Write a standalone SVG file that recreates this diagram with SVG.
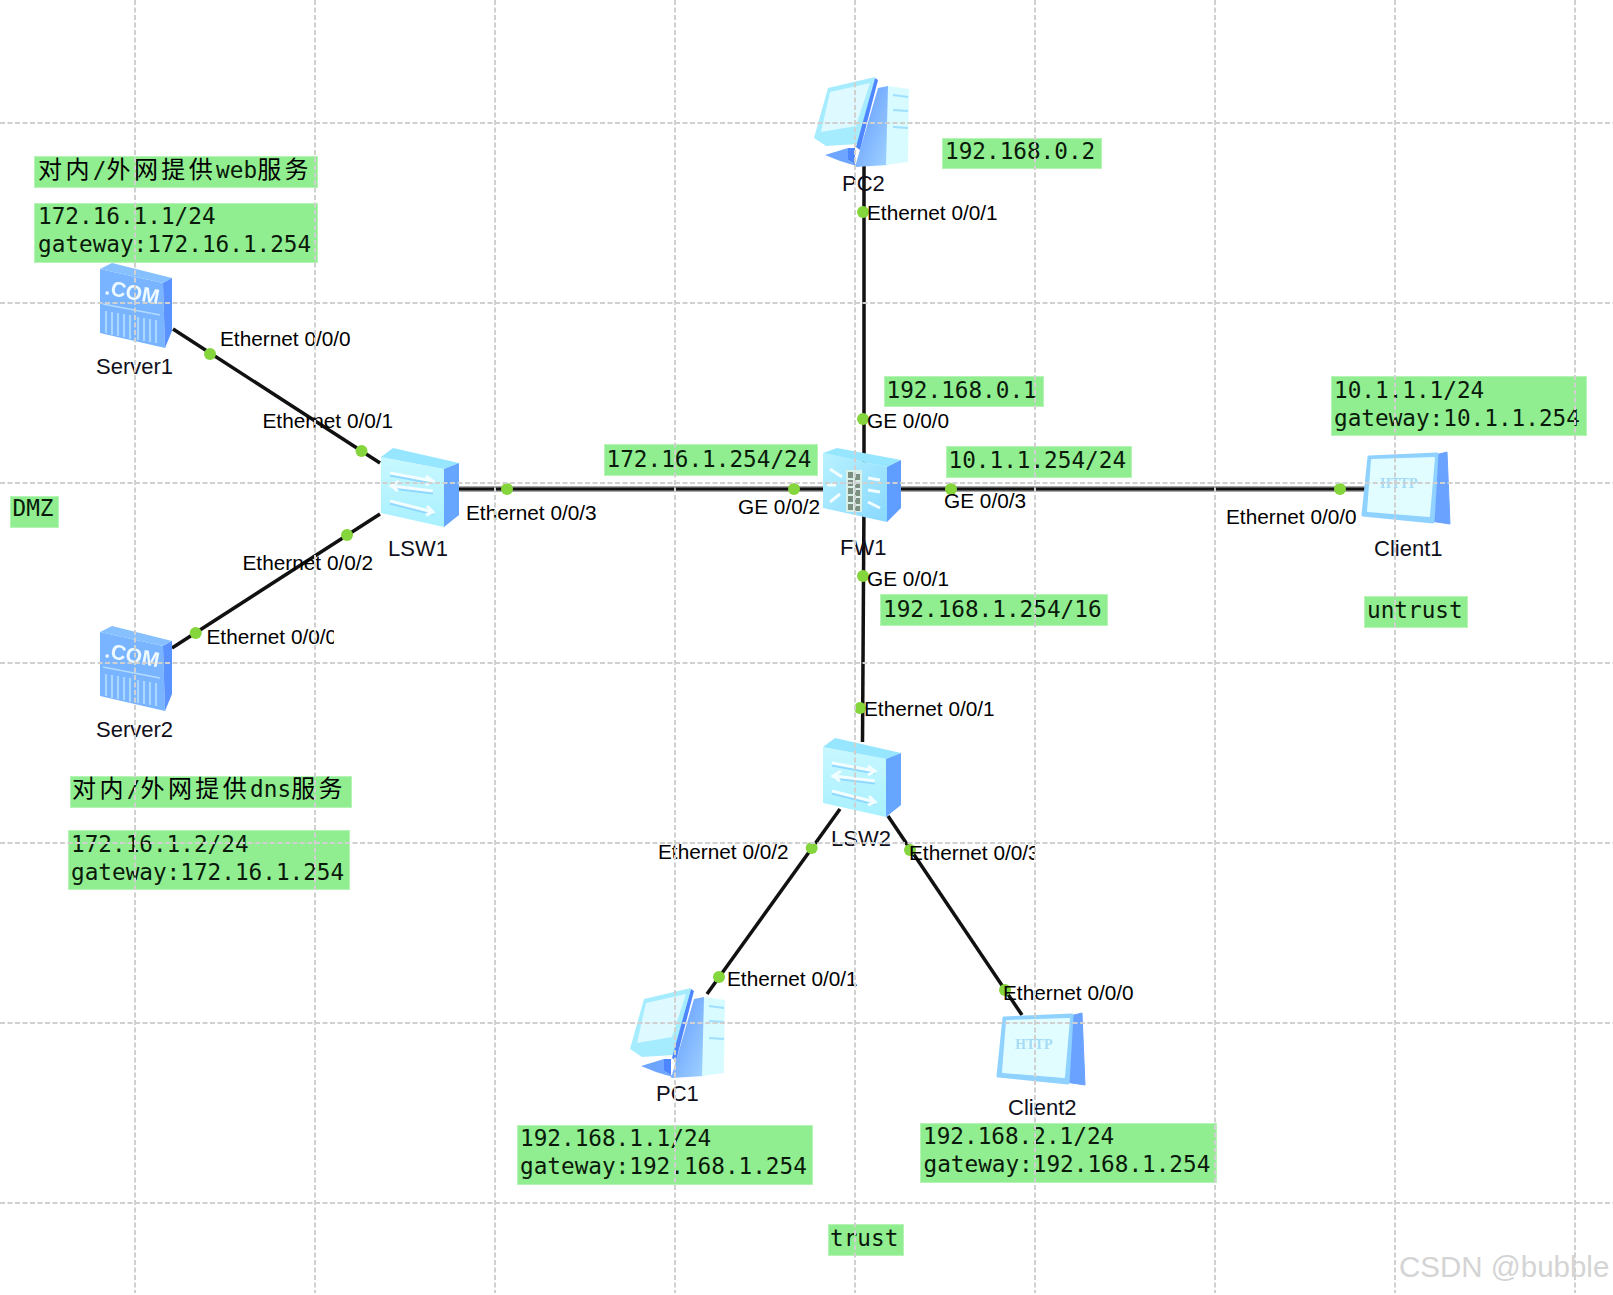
<svg xmlns="http://www.w3.org/2000/svg" xmlns:xlink="http://www.w3.org/1999/xlink" width="1613" height="1295" viewBox="0 0 1613 1295">
<style>
.note{fill:#90ee90;stroke:#b6f4b6;stroke-width:1}
.mono{font-family:"DejaVu Sans Mono","Noto Sans CJK SC",monospace;font-size:22.7px;fill:#0a1a0a}
.cjk{font-family:"Noto Sans CJK SC",sans-serif;font-size:24px;fill:#000}
.port{font-family:"Liberation Sans",Arial,sans-serif;font-size:20.8px;fill:#000}
.name{font-family:"Liberation Sans",Arial,sans-serif;font-size:22px;fill:#10101c}
.link{stroke:#111;stroke-width:3.5;fill:none}
.hlink{stroke:#111;stroke-width:2.8;fill:none}
.shade{stroke:#a8a8a8;stroke-width:6;fill:none}
.dot{fill:#84d63c}
.grid line{stroke:#d0d0d0;stroke-width:2;stroke-dasharray:5 2.5}
.ar{stroke:#f2fdff;stroke-width:3;fill:none}
.wm{font-family:"Liberation Sans",Arial,sans-serif;font-size:29.500px;fill:#d4d4d4}
</style>
<defs>
<filter id="soft" x="-5%" y="-5%" width="110%" height="110%"><feGaussianBlur stdDeviation="0.7"/></filter>
<linearGradient id="frontG" x1="0" y1="0" x2="0" y2="1"><stop offset="0" stop-color="#c8f8ff"/><stop offset="1" stop-color="#a8f0ff"/></linearGradient>
<linearGradient id="fwG" x1="0" y1="0" x2="1" y2="1"><stop offset="0" stop-color="#b8f2ff"/><stop offset="1" stop-color="#88d8ff"/></linearGradient>
<linearGradient id="pcG" x1="0" y1="0" x2="1" y2="1"><stop offset="0" stop-color="#5d96ff"/><stop offset="1" stop-color="#a0d2ff"/></linearGradient>
<clipPath id="clipS2"><rect x="200" y="620" width="134" height="32"/></clipPath>
<clipPath id="clipL2"><rect x="900" y="835" width="135" height="32"/></clipPath>
<g id="sw">
<polygon points="1,9 64,21 64,79 1,65" fill="url(#frontG)"/>
<polygon points="1,9 13,0 79,15 64,21" fill="#96e6ff"/>
<polygon points="64,21 79,15 79,67 64,79" fill="#66a6ff"/>
<path d="M10 27L53 35M53 45L12 40M10 55L53 66" stroke="#8fd8ff" stroke-width="3" fill="none"/>
<path class="ar" d="M10 25L53 33M46 28L53 33L46 37"/>
<path class="ar" d="M53 43L12 38M19 33L11 38L18 43"/>
<path class="ar" d="M10 53L53 64M47 58L53 64L46 67"/>
</g>
<g id="fw">
<polygon points="1,5 65,19 65,74 1,60" fill="url(#fwG)"/>
<polygon points="1,5 15,0 79,12 65,19" fill="#96e6ff"/>
<polygon points="65,19 79,12 79,60 65,74" fill="#5f9dff"/>
<rect x="24" y="22" width="16" height="42" fill="#d8efe8"/>
<path d="M26 24h5v6h-5zM33 26h5v6h-5zM26 32h5v6h-5zM33 34h5v6h-5zM26 40h5v6h-5zM33 42h5v6h-5zM26 48h5v6h-5zM33 50h5v6h-5zM26 56h5v6h-5zM33 58h5v5h-5z" fill="#7d8f80"/>
<path class="ar" d="M8 21L20 29M14 37L5 37M8 54L18 46M46 30L58 32M46 42L58 44M46 54L58 60"/>
</g>
<g id="srv">
<polygon points="0,6 63,20 65,85 0,70" fill="#78b4ff"/>
<polygon points="0,6 12,0 72,15 63,20" fill="#86c0ff"/>
<polygon points="63,20 72,15 72,68 65,85" fill="#5a92ff"/>
<text x="4" y="31" transform="rotate(11 4 31)" font-family="Liberation Sans,sans-serif" font-weight="700" font-size="21" fill="#eefaff">.COM</text>
<path d="M3 41L60 52" stroke="#b4dcff" stroke-width="1.500" fill="none"/>
<path d="M6 48V70M12 49V72M18 50V73M24 51V74M30 52V76M38 54V77M44 55V78M50 56V79M56 57V80" stroke="#a8d6ff" stroke-width="2.200" fill="none"/>
</g>
<g id="pc">
<polygon points="64,12 74,10 74,89 41,91" fill="url(#pcG)"/>
<polygon points="74,10 95,13 94,86 72,89" fill="#d8fbff"/>
<path d="M79 19L94 21M79 34L94 35M79 51L94 52" stroke="#9fdfff" stroke-width="2" fill="none"/>
<polygon points="11,79 34,72 34,84 46,91 26,85" fill="#6ea6ff"/>
<polygon points="34,72 41,72 41,88 46,91 34,84" fill="#4d86ff"/>
<polygon points="14,12 61,1 44,68 12,70 0,62" fill="#a5ecff"/>
<polygon points="16,16 56,7 42,50 7,56" fill="#def9ff"/>
<polygon points="61,2 64,4 46,74 42,71" fill="#4d86ff"/>
</g>
<g id="cli">
<polygon points="72,4 84,1 87,73 67,70" fill="#6ba3ff" stroke="#6ba3ff" stroke-width="1" stroke-linejoin="round"/>
<polygon points="6,6 74,3 70,71 0,64" fill="#8fd2ff" stroke="#8fd2ff" stroke-width="3" stroke-linejoin="round"/>
<polygon points="9,9 71,7 66,65 5,60" fill="#e2fdff" stroke="#e2fdff" stroke-width="2" stroke-linejoin="round"/>
<text x="17" y="37" font-family="DejaVu Serif,serif" font-weight="700" font-size="12" fill="#a6dcf6">HTTP</text>
</g>
</defs>
<rect width="1613" height="1295" fill="#fff"/>

<g id="connectors">
<path class="shade" d="M455 489H1366"/>
<path class="link" d="M173 329L380 463"/>
<path class="link" d="M380 514L172 648"/>
<path class="hlink" d="M455 489H1366"/>
<path class="link" d="M864 165V470"/>
<path class="link" d="M864 500L862.500 742"/>
<path class="link" d="M840 809L707 994"/>
<path class="link" d="M888 816L1022 1015"/>
<circle class="dot" cx="210" cy="354" r="6"/>
<circle class="dot" cx="361.500" cy="451" r="6"/>
<circle class="dot" cx="507" cy="489" r="6"/>
<circle class="dot" cx="347" cy="535" r="6"/>
<circle class="dot" cx="195.700" cy="633" r="6"/>
<circle class="dot" cx="863" cy="212" r="6"/>
<circle class="dot" cx="863" cy="419" r="6"/>
<circle class="dot" cx="794" cy="489" r="6"/>
<circle class="dot" cx="951" cy="489" r="6"/>
<circle class="dot" cx="863" cy="576" r="6"/>
<circle class="dot" cx="860" cy="708" r="6"/>
<circle class="dot" cx="1340" cy="489" r="6"/>
<circle class="dot" cx="811.700" cy="848" r="6"/>
<circle class="dot" cx="910" cy="850" r="6"/>
<circle class="dot" cx="719" cy="977" r="6"/>
<circle class="dot" cx="1005" cy="990" r="6"/>
</g>

<g id="Server1"><use href="#srv" x="100" y="263" filter="url(#soft)"/><text class="name" x="96" y="374">Server1</text></g>
<g id="Server2"><use href="#srv" x="100" y="626" filter="url(#soft)"/><text class="name" x="96" y="737">Server2</text></g>
<g id="LSW1"><use href="#sw" x="380" y="448" filter="url(#soft)"/><text class="name" x="388" y="556">LSW1</text></g>
<g id="LSW2"><use href="#sw" x="822" y="738" filter="url(#soft)"/><text class="name" x="831" y="846">LSW2</text></g>
<g id="FW1"><use href="#fw" x="822" y="448" filter="url(#soft)"/><text class="name" x="840" y="555">FW1</text></g>
<g id="PC2"><use href="#pc" x="814" y="76" filter="url(#soft)"/><text class="name" x="842" y="191">PC2</text></g>
<g id="PC1"><use href="#pc" x="630" y="987" filter="url(#soft)"/><text class="name" x="656" y="1101">PC1</text></g>
<g id="Client1"><use href="#cli" x="1363" y="451" filter="url(#soft)"/><text class="name" x="1374" y="556">Client1</text></g>
<g id="Client2"><use href="#cli" x="998" y="1012" filter="url(#soft)"/><text class="name" x="1008" y="1115">Client2</text></g>

<g id="port-labels">
<text class="port" x="220" y="346">Ethernet 0/0/0</text>
<text class="port" x="262.500" y="428">Ethernet 0/0/1</text>
<text class="port" x="466" y="520">Ethernet 0/0/3</text>
<text class="port" x="242.500" y="570">Ethernet 0/0/2</text>
<text class="port" x="206.500" y="644" clip-path="url(#clipS2)">Ethernet 0/0/0</text>
<text class="port" x="867" y="220">Ethernet 0/0/1</text>
<text class="port" x="867" y="428">GE 0/0/0</text>
<text class="port" x="738" y="514">GE 0/0/2</text>
<text class="port" x="944" y="508">GE 0/0/3</text>
<text class="port" x="867" y="586">GE 0/0/1</text>
<text class="port" x="864" y="716">Ethernet 0/0/1</text>
<text class="port" x="1226" y="524">Ethernet 0/0/0</text>
<text class="port" x="658" y="859">Ethernet 0/0/2</text>
<text class="port" x="909" y="860" clip-path="url(#clipL2)">Ethernet 0/0/3</text>
<text class="port" x="727" y="986">Ethernet 0/0/1</text>
<text class="port" x="1003" y="1000">Ethernet 0/0/0</text>
</g>

<g id="notes">
<g id="note-web"><rect class="note" x="34.500" y="156.500" width="283" height="31"/>
<text class="mono" y="177.500"><tspan class="cjk" x="38 65.400">对内</tspan><tspan x="92.800">/</tspan><tspan class="cjk" x="106.500 133.900 161.300 188.700">外网提供</tspan><tspan x="216.100">web</tspan><tspan class="cjk" x="257.200 284.600">服务</tspan></text></g>
<g id="note-s1"><rect class="note" x="34.500" y="203.500" width="283" height="59"/>
<text class="mono" x="38" y="224">172.16.1.1/24</text><text class="mono" x="38" y="252">gateway:172.16.1.254</text></g>
<g id="note-dmz"><rect class="note" x="10.500" y="496.500" width="48" height="31"/><text class="mono" x="12.500" y="516">DMZ</text></g>
<g id="note-dns"><rect class="note" x="70.500" y="776.500" width="281" height="31"/>
<text class="mono" y="797"><tspan class="cjk" x="72 99.400">对内</tspan><tspan x="126.800">/</tspan><tspan class="cjk" x="140.500 167.900 195.300 222.700">外网提供</tspan><tspan x="250.100">dns</tspan><tspan class="cjk" x="291.200 318.600">服务</tspan></text></g>
<g id="note-s2"><rect class="note" x="68.500" y="830.500" width="281" height="59"/>
<text class="mono" x="71" y="852">172.16.1.2/24</text><text class="mono" x="71" y="880">gateway:172.16.1.254</text></g>
<g id="note-pc2"><rect class="note" x="942.500" y="138.500" width="159" height="30"/><text class="mono" x="945" y="159">192.168.0.2</text></g>
<g id="note-ge0"><rect class="note" x="884.500" y="376.500" width="159" height="30"/><text class="mono" x="886.500" y="398">192.168.0.1</text></g>
<g id="note-ge3"><rect class="note" x="946.500" y="446.500" width="185" height="31"/><text class="mono" x="948.500" y="468">10.1.1.254/24</text></g>
<g id="note-ge2"><rect class="note" x="604.500" y="444.500" width="213" height="31"/><text class="mono" x="606.500" y="466.500">172.16.1.254/24</text></g>
<g id="note-ge1"><rect class="note" x="880.500" y="594.500" width="227" height="31"/><text class="mono" x="883" y="616.500">192.168.1.254/16</text></g>
<g id="note-c1"><rect class="note" x="1331.500" y="376.500" width="255" height="59"/>
<text class="mono" x="1334" y="397.500">10.1.1.1/24</text><text class="mono" x="1334" y="425.500">gateway:10.1.1.254</text></g>
<g id="note-untrust"><rect class="note" x="1364.500" y="596.500" width="103" height="31"/><text class="mono" x="1367" y="618">untrust</text></g>
<g id="note-pc1"><rect class="note" x="517.500" y="1125.500" width="295" height="59"/>
<text class="mono" x="520" y="1146">192.168.1.1/24</text><text class="mono" x="520" y="1174">gateway:192.168.1.254</text></g>
<g id="note-c2"><rect class="note" x="920.500" y="1123.500" width="296" height="59"/>
<text class="mono" x="923" y="1144">192.168.2.1/24</text><text class="mono" x="923.500" y="1172">gateway:192.168.1.254</text></g>
<g id="note-trust"><rect class="note" x="828.500" y="1224.500" width="75" height="31"/><text class="mono" x="830" y="1246">trust</text></g>
</g>

<g class="grid" id="grid">
<line x1="135" y1="0" x2="135" y2="1293"/><line x1="315" y1="0" x2="315" y2="1293"/><line x1="495" y1="0" x2="495" y2="1293"/><line x1="675" y1="0" x2="675" y2="1293"/><line x1="855" y1="0" x2="855" y2="1293"/><line x1="1035" y1="0" x2="1035" y2="1293"/><line x1="1215" y1="0" x2="1215" y2="1293"/><line x1="1395" y1="0" x2="1395" y2="1293"/><line x1="1575" y1="0" x2="1575" y2="1293"/>
<line x1="0" y1="123" x2="1613" y2="123"/><line x1="0" y1="303" x2="1613" y2="303"/><line x1="0" y1="483" x2="1613" y2="483"/><line x1="0" y1="663" x2="1613" y2="663"/><line x1="0" y1="843" x2="1613" y2="843"/><line x1="0" y1="1023" x2="1613" y2="1023"/><line x1="0" y1="1203" x2="1613" y2="1203"/>
</g>

<text class="wm" x="1399" y="1277">CSDN @bubble</text>
</svg>
